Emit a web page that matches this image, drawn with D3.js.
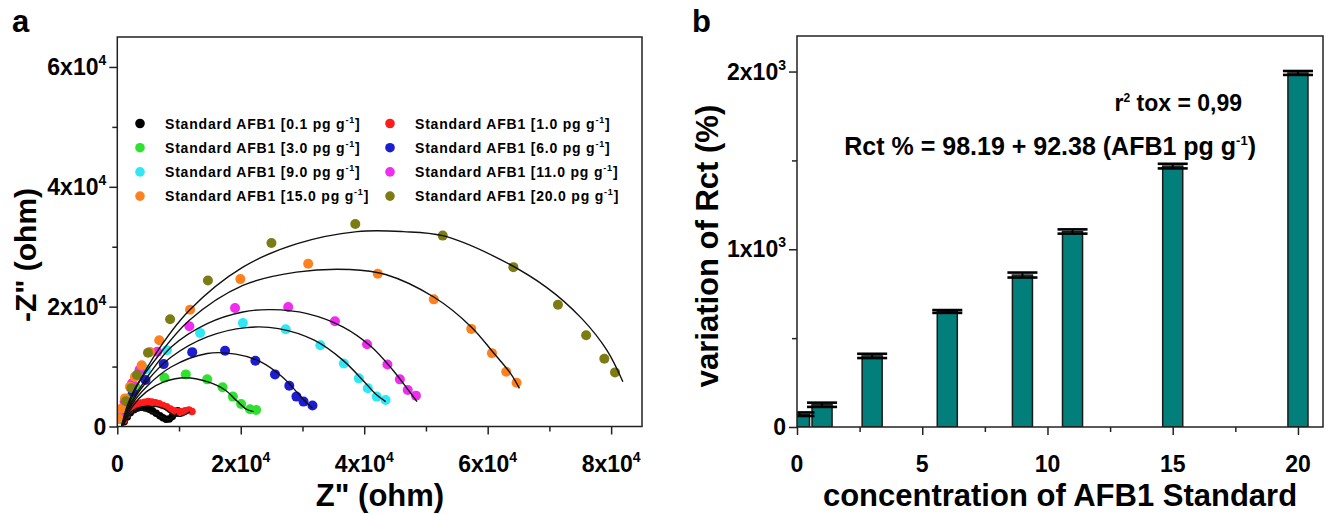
<!DOCTYPE html>
<html><head><meta charset="utf-8">
<script src="https://cdn.jsdelivr.net/npm/d3@7"></script>
<style>
body{margin:0;background:#fff;}
svg text{font-family:"Liberation Sans",Arial,sans-serif;font-weight:bold;fill:#000;}
</style></head><body>
<svg id="chart" width="1328" height="514"></svg>
<script>
// ---------- Panel a : Nyquist data (Z', -Z'' in ohm) ----------
const seriesNames = ["0.1","1.0","3.0","6.0","9.0","11.0","15.0","20.0"];
const seriesColors = ["#000000","#ff1c1c","#2fe22f","#1c1cd2","#2ee8f6","#f02cf0","#ff801f","#7c7c14"];

const pts_0_1 = [[1100,800],[1600,1600],[2100,2300],[2700,2800],[3300,3100],[3900,3200],[4500,3100],[5100,2900],[5700,2600],[6300,2200],[6900,1800],[7400,1450],[7900,1200],[8400,1250],[8900,1650],[9400,2200],[9800,2600]];
const pts_1_0 = [[1000,1000],[1500,1900],[2000,2700],[2600,3300],[3200,3700],[3800,3900],[4400,4050],[5000,4150],[5600,4100],[6200,3950],[6800,3800],[7400,3500],[8000,3300],[8600,2900],[9200,2600],[9800,2450],[10400,2450],[11000,2600],[11600,2750],[12100,2500]];
const pts_3_0 = [[500,1200],[1200,3000],[2000,4800],[3006,6537],[7630,8144],[11098,8698],[14566,7867],[17051,6537],[18727,4986],[20057,3767],[21502,2881],[22484,2770]];
const pts_6_0 = [[500,1500],[1400,3800],[2500,5800],[4566,7756],[7514,10415],[12138,12410],[17456,12631],[22369,10969],[25548,8698],[27860,6814],[29016,4986],[30172,4155],[31617,3490]];
const pts_9_0 = [[400,1500],[1300,4000],[2600,6800],[4600,9500],[8034,12742],[13410,15623],[20346,17285],[27282,16232],[32888,13573],[36703,10526],[39131,8033],[40576,6371],[42021,4986],[43466,4432]];
const pts_11_0 = [[300,1500],[1200,4200],[2400,7200],[3584,9418],[6474,12465],[11676,16731],[19074,19778],[27686,19944],[35258,17562],[40460,13739],[43755,10360],[45778,7867],[47049,6094],[48379,5152]];
const pts_15_0 = [[162,1363],[712,3020],[1246,4688],[2055,6617],[2864,8279],[3948,10224],[5291,12435],[6796,14381],[11791,19501],[19941,24598],[30923,27146],[42194,25484],[51269,21218],[57338,16288],[60690,12243],[63002,9141],[64678,7313]];
const pts_20_0 = [[1400,4200],[2300,6400],[3179,8587],[4971,12299],[8554,17894],[14681,24376],[24970,30636],[38553,33794],[52714,31855],[64158,26592],[71383,20332],[75949,15235],[78897,11302],[80631,9030]];

// fitted curves
const fit_0_1 = [[971,249],[2055,1912],[3673,2743],[5291,2460],[6914,1746],[8263,1197],[9336,1746],[9654,2216]];
const fit_1_0 = [[971,249],[1780,1912],[3139,3020],[5291,3408],[7443,3020],[9061,1912],[10420,1746],[11763,2460]];
const fit_3_0 = [[809,0],[2428,3324],[4740,5817],[7630,7479],[11098,8144],[14566,7479],[17456,6094],[19479,4155],[20924,2881],[22080,2493]];
const fit_6_0 = [[694,0],[2139,3324],[4740,6648],[8786,9972],[14566,12188],[19190,12077],[23236,10803],[26704,8310],[29016,5817],[30461,4155],[31617,3047]];
const fit_9_0 = [[694,0],[1850,3047],[4740,7479],[8786,11634],[14566,14958],[20924,16509],[26126,16343],[31906,14404],[36530,11080],[39998,7479],[41732,5540],[43466,4155]];
const fit_11_0 = [[694,0],[1850,3324],[4162,7202],[8786,13296],[14566,17174],[20346,19113],[24970,19501],[30750,18836],[36530,16620],[41154,13296],[44622,9418],[46934,6371],[48552,4155]];
const fit_15_0 = [[694,0],[1561,3324],[3006,6648],[5896,10803],[11676,17728],[20346,23545],[29016,25761],[37686,26204],[43466,25373],[51269,21606],[57338,16620],[60806,12465],[63696,8864],[65141,6371]];
const fit_20_0 = [[809,0],[1561,2770],[3006,6371],[5896,11634],[11676,19390],[20346,26592],[29016,30470],[38842,32520],[46356,32520],[52714,31855],[60806,28531],[69476,23268],[75256,18005],[79302,12742],[81903,7479]];

const seriesPoints = [pts_0_1,pts_1_0,pts_3_0,pts_6_0,pts_9_0,pts_11_0,pts_15_0,pts_20_0];
const seriesFits = [fit_0_1,fit_1_0,fit_3_0,fit_6_0,fit_9_0,fit_11_0,fit_15_0,fit_20_0];

const zxMajor = [0,20000,40000,60000,80000];
const zxMinor = [10000,30000,50000,70000];
const zyMajor = [0,20000,40000,60000];
const zyMinor = [10000,30000,50000];

// ---------- Panel b : bars ----------
const concentrations = [0.1,1,3,6,9,11,15,20];
const rctValues = [72,125,400,650,855,1100,1468,1992];
const rctErrors = [10,12,12,8,14,12,13,11];
const bxMajor = [0,5,10,15,20];
const bxMinor = [2.5,7.5,12.5,17.5];
const byMajor = [0,1000,2000];
const byMinor = [500,1500];

const svg = d3.select("#chart");
const FR = "#222";

function sciParts(v, exp){
  if (v === 0 || exp === 0) return [String(v), null];
  return [(v/Math.pow(10,exp)) + "x10", String(exp)];
}
function addLabel(g, x, y, v, exp, anchor, size){
  const [m, e] = sciParts(v, exp);
  const t = g.append("text").attr("x", x).attr("y", y).attr("text-anchor", anchor).style("font-size", size+"px");
  t.append("tspan").text(m);
  if (e) t.append("tspan").attr("dy", -10).style("font-size","14px").text(e);
  return t;
}

function drawFrame(x, y, exp, xMaj, xMin, yMaj, yMin, xExp){
  const [x0,x1] = x.range(), [y0,y1] = y.range();
  const g = svg.append("g");
  const ax = g.append("g").attr("transform",`translate(0,${y0})`)
    .call(d3.axisBottom(x).tickValues(xMaj).tickSize(8).tickFormat(()=>"").tickSizeOuter(0));
  const axm = g.append("g").attr("transform",`translate(0,${y0})`)
    .call(d3.axisBottom(x).tickValues(xMin).tickSize(5).tickFormat(()=>"").tickSizeOuter(0));
  const ay = g.append("g").attr("transform",`translate(${x0},0)`)
    .call(d3.axisLeft(y).tickValues(yMaj).tickSize(8).tickFormat(()=>"").tickSizeOuter(0));
  const aym = g.append("g").attr("transform",`translate(${x0},0)`)
    .call(d3.axisLeft(y).tickValues(yMin).tickSize(5).tickFormat(()=>"").tickSizeOuter(0));
  [ax,axm,ay,aym].forEach(a=>{a.select(".domain").remove(); a.selectAll("line").attr("stroke",FR).attr("stroke-width",1.5);});
  g.append("rect").attr("x",x0).attr("y",y1).attr("width",x1-x0).attr("height",y0-y1)
    .attr("fill","none").attr("stroke",FR).attr("stroke-width",1.5);
  xMaj.forEach(v=>addLabel(g, x(v), y0+45, v, xExp, "middle", 23));
  yMaj.forEach(v=>addLabel(g, x0-11, y(v)+8, v, exp, "end", 23));
  return g;
}

// ----- Panel a -----
const xA = d3.scaleLinear().domain([0,85000]).range([117.3,642]);
const yA = d3.scaleLinear().domain([0,65000]).range([426.5,37]);
svg.append("defs").append("clipPath").attr("id","clipA").append("rect")
  .attr("x",117.3).attr("y",37).attr("width",642-117.3).attr("height",426.5-37);
const plotA = svg.append("g").attr("clip-path","url(#clipA)");
seriesPoints.forEach((pts,i)=>{
  const r = (i<2) ? 3.8 : 5;
  plotA.append("g").selectAll("circle").data(pts).join("circle")
    .attr("cx",d=>xA(d[0])).attr("cy",d=>yA(d[1])).attr("r",r)
    .attr("fill",seriesColors[i]);
});
const lineA = d3.line().x(d=>xA(d[0])).y(d=>yA(d[1])).curve(d3.curveCatmullRom.alpha(0.5));
seriesFits.forEach(f=>{
  plotA.append("path").attr("d",lineA(f)).attr("fill","none").attr("stroke","#111").attr("stroke-width",1.4);
});
drawFrame(xA, yA, 4, zxMajor, zxMinor, zyMajor, zyMinor, 4);

// legend
const leg = svg.append("g");
seriesNames.forEach((n,i)=>{
  const col = i%2, row = Math.floor(i/2);
  const lx = 140 + col*250, ly = 123.5 + row*24.2;
  leg.append("circle").attr("cx",lx).attr("cy",ly).attr("r",4.8).attr("fill",seriesColors[i]);
  const t = leg.append("text").attr("x",lx+25).attr("y",ly+5).style("font-size","14px").style("letter-spacing","0.8px");
  t.append("tspan").text(`Standard AFB1 [${n} pg g`);
  t.append("tspan").attr("dy",-6).style("font-size","9px").text("-1");
  t.append("tspan").attr("dy",6).text("]");
});

svg.append("text").attr("x",12).attr("y",32).style("font-size","31px").text("a");
svg.append("text").attr("x",380).attr("y",506).attr("text-anchor","middle").style("font-size","31px").text('Z" (ohm)');
svg.append("text").attr("transform","translate(36,255) rotate(-90)").attr("text-anchor","middle").style("font-size","30px").text('-Z" (ohm)');

// ----- Panel b -----
const xB = d3.scaleLinear().domain([0,21]).range([797,1323]);
const yB = d3.scaleLinear().domain([0,2200]).range([427,36]);
svg.select("defs").append("clipPath").attr("id","clipB").append("rect")
  .attr("x",797).attr("y",36).attr("width",1323-797).attr("height",427-36);
const plotB = svg.append("g").attr("clip-path","url(#clipB)");
const barW = 0.8;
plotB.selectAll("rect.bar").data(concentrations).join("rect").attr("class","bar")
  .attr("x",d=>xB(d-barW/2)).attr("width",d=>xB(d+barW/2)-xB(d-barW/2))
  .attr("y",(d,i)=>yB(rctValues[i])).attr("height",(d,i)=>yB(0)-yB(rctValues[i]))
  .attr("fill","#037f7b").attr("stroke","#1a1a1a").attr("stroke-width",1.5);
concentrations.forEach((c,i)=>{
  const v = rctValues[i], e = rctErrors[i];
  const xl = xB(c-barW/2)-5, xr = xB(c+barW/2)+5;
  plotB.append("line").attr("x1",xB(c)).attr("x2",xB(c)).attr("y1",yB(v+e)).attr("y2",yB(v-e)).attr("stroke","#000").attr("stroke-width",2);
  [v+e, v-e].forEach(w=>{
    plotB.append("line").attr("x1",xl).attr("x2",xr).attr("y1",yB(w)).attr("y2",yB(w)).attr("stroke","#000").attr("stroke-width",2.6);
  });
});
drawFrame(xB, yB, 3, bxMajor, bxMinor, byMajor, byMinor, 0);

svg.append("text").attr("x",692).attr("y",32).style("font-size","31px").text("b");
svg.append("text").attr("x",1060).attr("y",506).attr("text-anchor","middle").style("font-size","31px").text("concentration of AFB1 Standard");
svg.append("text").attr("transform","translate(718,246) rotate(-90)").attr("text-anchor","middle").style("font-size","31px").text("variation of Rct (%)");

const t1 = svg.append("text").attr("x",1242).attr("y",111).attr("text-anchor","end").style("font-size","23px");
t1.append("tspan").text("r");
t1.append("tspan").attr("dy",-9).style("font-size","12px").text("2");
t1.append("tspan").attr("dy",9).text(" tox = 0,99");
const t2 = svg.append("text").attr("x",1256).attr("y",155).attr("text-anchor","end").style("font-size","25px");
t2.append("tspan").text("Rct % = 98.19 + 92.38 (AFB1 pg g");
t2.append("tspan").attr("dy",-10).style("font-size","13px").text("-1");
t2.append("tspan").attr("dy",10).text(")");
</script>
</body></html>
